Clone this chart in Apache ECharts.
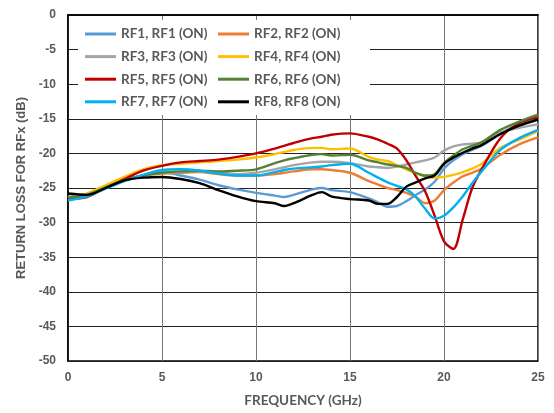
<!DOCTYPE html>
<html>
<head>
<meta charset="utf-8">
<script src="https://cdn.jsdelivr.net/npm/echarts@6/dist/echarts.min.js"></script>
<style>
html,body{margin:0;padding:0;background:#fff;}
#chart{width:554px;height:413px;}
</style>
</head>
<body>
<div id="chart"></div>
<script>
const freq = [0,1,2,3,4,5,6,7,8,9,10,11,11.5,12,13,13.5,14,15,16,16.5,17,17.5,18,18.5,19,19.5,20,20.5,21,21.5,22,23,24,25];

const rf1 = [-26.3,-25.9,-24.9,-23.9,-23.2,-22.7,-23.2,-23.8,-24.6,-25.2,-25.7,-26.1,-26.3,-26.0,-25.2,-25.0,-25.3,-25.6,-26.5,-27.1,-27.7,-27.6,-26.9,-26.0,-25.2,-24.1,-22.2,-21.0,-20.1,-19.5,-18.9,-17.2,-15.7,-14.8];
const rf2 = [-26.4,-26.1,-25.0,-23.9,-23.2,-22.9,-22.8,-22.7,-23.0,-23.2,-23.2,-23.0,-22.8,-22.6,-22.3,-22.3,-22.4,-22.8,-24.0,-24.5,-25.0,-25.3,-25.7,-26.3,-27.2,-26.8,-25.3,-24.2,-23.3,-22.8,-22.2,-20.2,-18.7,-17.7];
const rf3 = [-26.4,-26.0,-24.9,-23.8,-23.2,-22.8,-22.7,-22.6,-22.8,-23.0,-22.8,-22.3,-22.0,-21.7,-21.3,-21.2,-21.2,-21.4,-21.9,-22.0,-22.1,-21.9,-21.6,-21.3,-21.0,-20.6,-19.6,-19.0,-18.7,-18.6,-18.4,-17.0,-16.3,-15.8];
const rf4 = [-26.4,-25.8,-24.6,-23.4,-22.3,-21.7,-21.5,-21.3,-21.1,-20.9,-20.6,-20.1,-19.8,-19.5,-19.2,-19.2,-19.4,-19.3,-20.5,-20.9,-21.1,-21.7,-22.3,-22.9,-23.3,-23.5,-23.4,-23.1,-22.7,-22.2,-21.5,-19.2,-18.0,-16.8];
const rf5 = [-26.6,-26.3,-25.0,-23.7,-22.5,-21.8,-21.3,-21.1,-20.9,-20.5,-20.0,-19.3,-18.9,-18.5,-17.8,-17.6,-17.3,-17.1,-17.6,-18.0,-18.6,-19.3,-21.0,-23.3,-25.5,-29.0,-32.7,-33.8,-29.5,-25.0,-22.3,-17.8,-15.6,-14.8];
const rf6 = [-26.4,-26.0,-24.9,-23.9,-23.2,-22.8,-22.6,-22.5,-22.6,-22.5,-22.3,-21.4,-21.0,-20.7,-20.2,-20.1,-20.3,-20.2,-21.0,-21.3,-21.6,-21.8,-22.1,-22.8,-23.2,-23.0,-21.4,-20.3,-19.4,-18.9,-18.4,-16.6,-15.4,-14.4];
const rf7 = [-26.8,-26.2,-25.1,-24.0,-23.1,-22.4,-22.3,-22.5,-22.9,-23.2,-23.2,-22.7,-22.4,-22.2,-22.0,-21.9,-21.7,-21.5,-22.8,-23.5,-24.2,-24.7,-25.2,-26.3,-28.0,-29.4,-29.0,-27.8,-26.2,-24.3,-22.6,-19.5,-17.8,-16.6];
const rf8 = [-25.8,-26.0,-25.0,-23.9,-23.5,-23.4,-23.7,-24.3,-25.3,-26.2,-26.9,-27.2,-27.6,-27.2,-26.0,-25.6,-26.2,-26.6,-26.8,-27.3,-27.3,-26.3,-24.8,-24.2,-23.6,-23.2,-21.5,-20.6,-19.9,-19.3,-18.8,-17.2,-16.0,-15.1];

const seriesNames = ['RF1, RF1 (ON)','RF2, RF2 (ON)','RF3, RF3 (ON)','RF4, RF4 (ON)','RF5, RF5 (ON)','RF6, RF6 (ON)','RF7, RF7 (ON)','RF8, RF8 (ON)'];
const seriesValues = [rf1, rf2, rf3, rf4, rf5, rf6, rf7, rf8];
const colors = ['#5B9BD5','#ED7D31','#A5A5A5','#FFC000','#C00000','#548235','#00B0F0','#000000'];
const xTicks = [0,5,10,15,20,25];
const yTicks = [0,-5,-10,-15,-20,-25,-30,-35,-40,-45,-50];

const chart = echarts.init(document.getElementById('chart'));
const legendText = {fontFamily:'Lato', fontWeight:'bold', fontSize:13.5, color:'#595959'};
const option = {
  animation:false,
  color: colors,
  grid:{left:68, right:16, top:15, bottom:51, show:true, borderColor:'#000', borderWidth:1.5},
  graphic:[{type:'rect', shape:{x:78,y:20,width:292,height:95}, style:{fill:'#fff'}, z:3}],
  legend:[
    {data:[seriesNames[0],seriesNames[2],seriesNames[4],seriesNames[6]], orient:'vertical', left:80, top:22, itemWidth:31, itemHeight:3, itemGap:8.6, icon:'rect', textStyle:legendText, z:5},
    {data:[seriesNames[1],seriesNames[3],seriesNames[5],seriesNames[7]], orient:'vertical', left:213, top:22, itemWidth:31, itemHeight:3, itemGap:8.6, icon:'rect', textStyle:legendText, z:5}
  ],
  xAxis:{type:'value', min:0, max:25, interval:5,
    name:'FREQUENCY (GHz)', nameLocation:'middle', nameGap:33,
    nameTextStyle:{fontFamily:'Lato', fontWeight:'bold', fontSize:13.5, color:'#595959'},
    axisLine:{lineStyle:{color:'#000', width:1.5}}, axisTick:{show:false},
    axisLabel:{margin:11, fontFamily:'Liberation Sans', fontWeight:'bold', fontSize:12, color:'#595959',
      formatter:v=>xTicks.includes(v)?String(v):''},
    splitLine:{show:true, lineStyle:{color:'#777', width:1}}},
  yAxis:{type:'value', min:-50, max:0, interval:5,
    name:'RETURN LOSS FOR RFx (dB)', nameLocation:'middle', nameGap:35,
    nameTextStyle:{fontFamily:'Liberation Sans', fontWeight:'bold', fontSize:13, color:'#595959'},
    axisLine:{show:true, lineStyle:{color:'#000', width:1.5}}, axisTick:{show:false},
    axisLabel:{margin:12, fontFamily:'Liberation Sans', fontWeight:'bold', fontSize:12, color:'#595959',
      formatter:v=>yTicks.includes(v)?String(v):''},
    splitLine:{show:true, lineStyle:{color:'#222', width:1}}},
  series: seriesNames.map((n,i)=>({
    name:n, type:'line', showSymbol:false, smooth:0.3, z:2,
    lineStyle:{width:2.4, color:colors[i]}, itemStyle:{color:colors[i]},
    data: freq.map((f,j)=>[f, seriesValues[i][j]])
  }))
};
chart.setOption(option);
</script>
</body>
</html>
